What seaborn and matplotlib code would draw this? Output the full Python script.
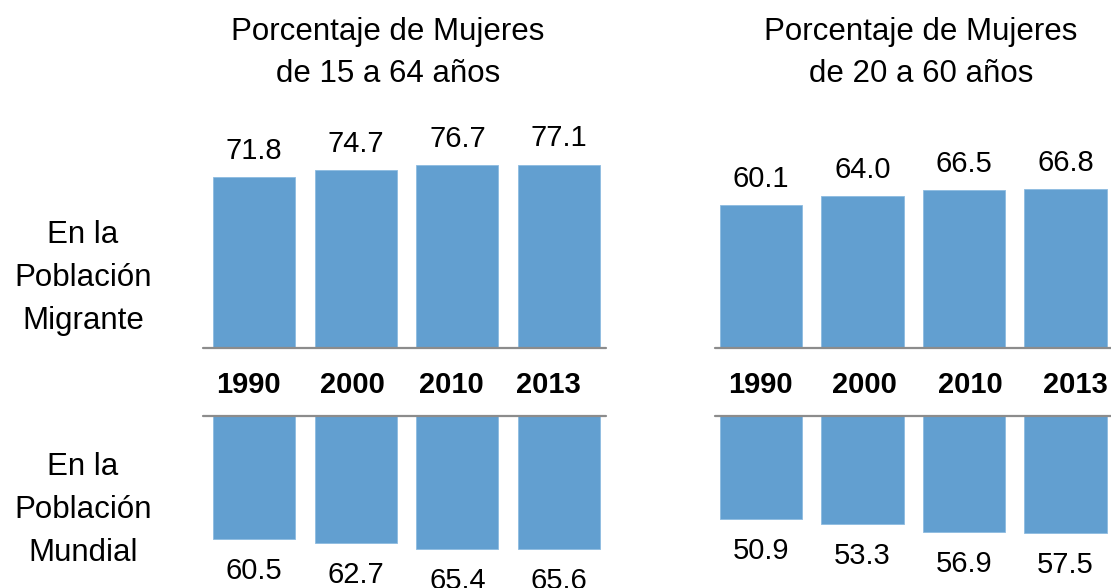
import matplotlib
matplotlib.use("Agg")
import matplotlib.pyplot as plt
import seaborn as sns
import pandas as pd

years = ["1990", "2000", "2010", "2013"]
migr_15_64 = [71.8, 74.7, 76.7, 77.1]
world_15_64 = [60.5, 62.7, 65.4, 65.6]
migr_20_60 = [60.1, 64.0, 66.5, 66.8]
world_20_60 = [50.9, 53.3, 56.9, 57.5]
titles = ["Porcentaje de Mujeres\nde 15 a 64 años", "Porcentaje de Mujeres\nde 20 a 60 años"]
row_labels = ["En la\nPoblación\nMigrante", "En la\nPoblación\nMundial"]

sns.set_theme(style="white")
plt.rcParams["font.family"] = ["Liberation Sans", "DejaVu Sans"]
plt.rcParams["text.color"] = "black"

W, H = 1111, 588
fig = plt.figure(figsize=(W / 100, H / 100), dpi=100)

BAR = "#629FD0"
LINE = "#8C8C8C"

def px_axes(x0, x1, ytop, ybot):
    return fig.add_axes([x0 / W, (H - ybot) / H, (x1 - x0) / W, (ybot - ytop) / H])

panels = [
    dict(x0=203, x1=606, xlim=(-0.50, 3.46), width=0.806, up=migr_15_64, down=world_15_64,
         title=titles[0], tx=388, yshift=[-5, -3, -6, -11]),
    dict(x0=715, x1=1111, xlim=(-0.453, 3.448), width=0.81, up=migr_20_60, down=world_20_60,
         title=titles[1], tx=921, yshift=[-1, 2, 6, 10]),
]

for p in panels:
    # upper (migrant) bars
    axu = px_axes(p["x0"], p["x1"], 110, 348)
    dfu = pd.DataFrame({"year": years, "val": p["up"]})
    sns.barplot(data=dfu, x="year", y="val", order=years, color=BAR, saturation=1,
                width=p["width"], ax=axu, edgecolor="#8DBBE0", linewidth=0.6)
    axu.set_ylim(0, 100)
    axu.set_xlim(*p["xlim"])
    axu.set_axis_off()
    axu.axhline(0, color=LINE, lw=1.6, clip_on=False, zorder=5)
    for i, v in enumerate(p["up"]):
        axu.annotate(f"{v:.1f}", xy=(i, v), xytext=(0, 13), textcoords="offset points",
                     ha="center", va="baseline", fontsize=21, color="black")
        axu.annotate(years[i], xy=(i, 0), xytext=(p["yshift"][i] * 0.72, -32.4),
                     textcoords="offset points", ha="center", va="baseline",
                     fontsize=21, fontweight="bold", color="black", annotation_clip=False)

    # lower (world) bars
    axd = px_axes(p["x0"], p["x1"], 416, 588)
    dfd = pd.DataFrame({"year": years, "val": p["down"]})
    sns.barplot(data=dfd, x="year", y="val", order=years, color=BAR, saturation=1,
                width=p["width"], ax=axd, edgecolor="#8DBBE0", linewidth=0.6)
    axd.set_ylim(84.7, 0)
    axd.set_xlim(*p["xlim"])
    axd.set_axis_off()
    axd.axhline(0, color=LINE, lw=1.6, clip_on=False, zorder=5)
    for i, v in enumerate(p["down"]):
        axd.annotate(f"{v:.1f}", xy=(i, v), xytext=(0, -28.8), textcoords="offset points",
                     ha="center", va="baseline", fontsize=21, color="black",
                     annotation_clip=False)

    fig.text(p["tx"] / W, 1 - 53 / H, p["title"], ha="center", va="center",
             fontsize=22.5, linespacing=1.5, color="black")

fig.text(83 / W, 1 - 278 / H, row_labels[0], ha="center", va="center", fontsize=22.5,
         linespacing=1.55, color="black")
fig.text(83 / W, 1 - 510 / H, row_labels[1], ha="center", va="center", fontsize=22.5,
         linespacing=1.55, color="black")

fig.savefig("out.png", dpi=100, facecolor="white")
